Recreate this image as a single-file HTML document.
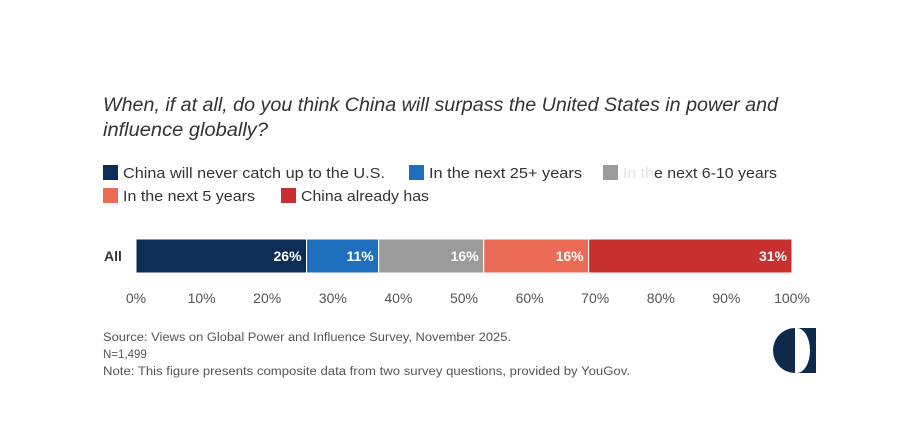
<!DOCTYPE html>
<html><head><meta charset="utf-8"><style>
body{margin:0;background:#fff;width:916px;height:433px;overflow:hidden;font-family:"Liberation Sans",sans-serif;}
svg{display:block}
</style></head><body>
<svg width="916" height="433">
<g font-style="italic" font-size="19" fill="#333">
<text x="103" y="111" textLength="675" lengthAdjust="spacingAndGlyphs">When, if at all, do you think China will surpass the United States in power and</text>
<text x="103" y="136" textLength="165" lengthAdjust="spacingAndGlyphs">influence globally?</text>
</g>
<g id="legend" font-size="15" fill="#333"></g>
<g id="bars"></g>
<g id="axis" font-size="14" fill="#555" text-anchor="middle"></g>
<text x="104" y="261" font-size="14" font-weight="bold" fill="#333">All</text>
<g font-size="11.5" fill="#555">
<text x="103" y="341" textLength="408" lengthAdjust="spacingAndGlyphs">Source: Views on Global Power and Influence Survey, November 2025.</text>
<text x="103" y="358">N=1,499</text>
<text x="103" y="375" textLength="527" lengthAdjust="spacingAndGlyphs">Note: This figure presents composite data from two survey questions, provided by YouGov.</text>
</g>
<g>
<path d="M795 328 A22 22.5 0 0 0 795 373 Z" fill="#0d2a4d"/>
<rect x="797" y="328" width="19" height="45" fill="#0d2a4d"/>
<path d="M797 328 A13 22.5 0 0 1 797 373 Z" fill="#fff"/>
</g>
</svg>
<script>
const categories=["China will never catch up to the U.S.","In the next 25+ years","In the next 6-10 years","In the next 5 years","China already has"];
const values=[26,11,16,16,31];
const colors=["#0c2d56","#1f6fbf","#9b9b9b","#eb6b57","#c7302e"];
const ticks=[0,10,20,30,40,50,60,70,80,90,100];
const NS="http://www.w3.org/2000/svg";
const x0=136,x1=792;
const xs=v=>x0+(x1-x0)*v/100;
function mk(t,a,p){const e=document.createElementNS(NS,t);for(const k in a)e.setAttribute(k,a[k]);p.appendChild(e);return e;}
const bars=document.getElementById('bars');
let acc=0;
values.forEach((v,i)=>{
 const r=mk('rect',{x:xs(acc),y:239,width:xs(acc+v)-xs(acc),height:34,fill:colors[i],stroke:'#fff','stroke-width':1},bars);
 
 
 const t=mk('text',{x:xs(acc+v)-5,y:261,'text-anchor':'end','font-size':14,'font-weight':'bold',fill:'#fff'},bars);
 t.textContent=v+'%';
 
 
 acc+=v;
});
const ax=document.getElementById('axis');
ticks.forEach(v=>{
 const t=mk('text',{x:xs(v),y:303},ax);t.textContent=v+'%';
 
 
});
const lg=document.getElementById('legend');
const pos=[[103,165],[409,165],[603,165],[103,188],[281,188]];
const lens=[262,153,154,132,128];
categories.forEach((c,i)=>{
 const g=mk('g',{},lg);
 
 
 mk('rect',{x:pos[i][0],y:pos[i][1],width:15,height:15,fill:colors[i]},g);
 const t=mk('text',{x:pos[i][0]+20,y:pos[i][1]+13,textLength:lens[i],lengthAdjust:'spacingAndGlyphs'},g);
 if(i===2){t.innerHTML='<tspan fill="#e4e4e4">In th</tspan>e next 6-10 years';}
 else t.textContent=c;
});
</script>
</body></html>
